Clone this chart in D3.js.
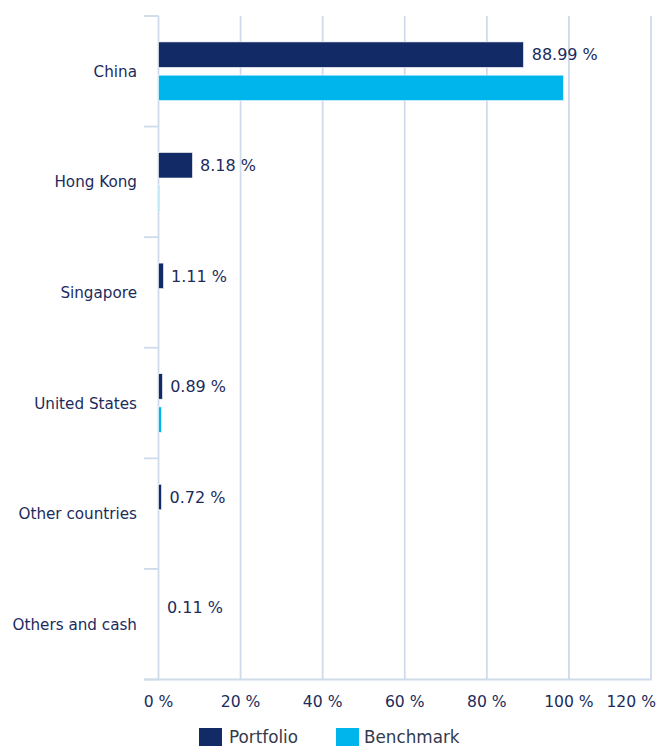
<!DOCTYPE html>
<html><head><meta charset="utf-8">
<script src="https://cdn.jsdelivr.net/npm/d3@7"></script>
<style>body{margin:0;background:#fff}svg{display:block}text{font-family:"DejaVu Sans",Verdana,sans-serif}</style>
</head><body><div id="chart"></div>
<script>
const categories = ["China","Hong Kong","Singapore","United States","Other countries","Others and cash"];
const seriesNames = ["Portfolio","Benchmark"];
const portfolio = [88.99, 8.18, 1.11, 0.89, 0.72, 0.11];
const benchmark = [98.8, 0.15, 0, 0.8, 0, 0];
const xTicks = [0,20,40,60,80,100,120];
const colors = {Portfolio:"#122b66", Benchmark:"#00b4ec"};

const W=657,H=747;
const svg=d3.select("#chart").append("svg").attr("width",W).attr("height",H);
const x=d3.scaleLinear().domain([0,120]).range([158.5,651]);
const y=d3.scaleBand().domain(categories).range([16,679.5]);
const ys=d3.scaleBand().domain(seriesNames).range([0,y.bandwidth()]).paddingInner(0.232).paddingOuter(0.78);
const gridColor="#cfdbea";
const navy="#1c2b5c";

// vertical gridlines
svg.append("g").selectAll("line").data(xTicks.slice(1)).join("line")
  .attr("x1",d=>x(d)).attr("x2",d=>x(d)).attr("y1",16).attr("y2",679.5)
  .attr("stroke",gridColor).attr("stroke-width",1.8);
// left axis line
svg.append("line").attr("x1",x(0)).attr("x2",x(0)).attr("y1",16).attr("y2",679.5).attr("stroke",gridColor).attr("stroke-width",1.8);
// category ticks
const bounds=categories.map(c=>y(c)).concat([679.5]);
svg.append("g").selectAll("line").data(bounds).join("line")
  .attr("x1",144).attr("x2",x(0)).attr("y1",d=>d).attr("y2",d=>d)
  .attr("stroke",gridColor).attr("stroke-width",1.8);
// bottom axis line
svg.append("line").attr("x1",144).attr("x2",x(120)+0.5).attr("y1",679.5).attr("y2",679.5).attr("stroke",gridColor).attr("stroke-width",1.8);

const rows=categories.map((c,i)=>({c,vals:[{s:"Portfolio",v:portfolio[i]},{s:"Benchmark",v:benchmark[i]}]}));
const g=svg.append("g").selectAll("g").data(rows).join("g").attr("transform",d=>`translate(0,${y(d.c)})`);
g.selectAll("rect").data(d=>d.vals.filter(v=>Math.round(x(v.v)-x(0))>0)).join("rect")
  .attr("x",x(0)).attr("y",d=>ys(d.s)).attr("width",d=>Math.round(x(d.v)-x(0))).attr("height",ys.bandwidth())
  .attr("fill",d=>colors[d.s]).attr("stroke","#fff").attr("stroke-width",0.6);
// value labels (portfolio only)
g.append("text").attr("x",d=>x(d.vals[0].v)+8).attr("y",d=>ys("Portfolio")+ys.bandwidth()/2)
  .attr("dy","0.36em").attr("font-size",16).attr("fill",navy)
  .text(d=>d3.format(".2f")(d.vals[0].v)+" %");
// category labels
svg.append("g").selectAll("text").data(categories).join("text")
  .attr("x",137).attr("y",d=>y(d)+y.bandwidth()/2).attr("dy","0.36em").attr("text-anchor","end")
  .attr("font-size",15.2).attr("fill",navy).text(d=>d);
// x tick labels
svg.append("g").selectAll("text").data(xTicks).join("text")
  .attr("x",(d,i)=>i===xTicks.length-1?656:x(d)).attr("y",707)
  .attr("text-anchor",(d,i)=>i===xTicks.length-1?"end":"middle").attr("font-size",15.6).attr("fill",navy)
  .text(d=>d+" %");
// legend
const leg=svg.append("g").selectAll("g").data(seriesNames).join("g")
  .attr("transform",(d,i)=>`translate(${i?336:199},728)`);
leg.append("rect").attr("width",23).attr("height",18).attr("fill",d=>colors[d]);
leg.append("text").attr("x",d=>d==="Portfolio"?30:28).attr("y",9).attr("dy","0.36em").attr("font-size",16.8).attr("fill","#333a4d").text(d=>d);
</script></body></html>
